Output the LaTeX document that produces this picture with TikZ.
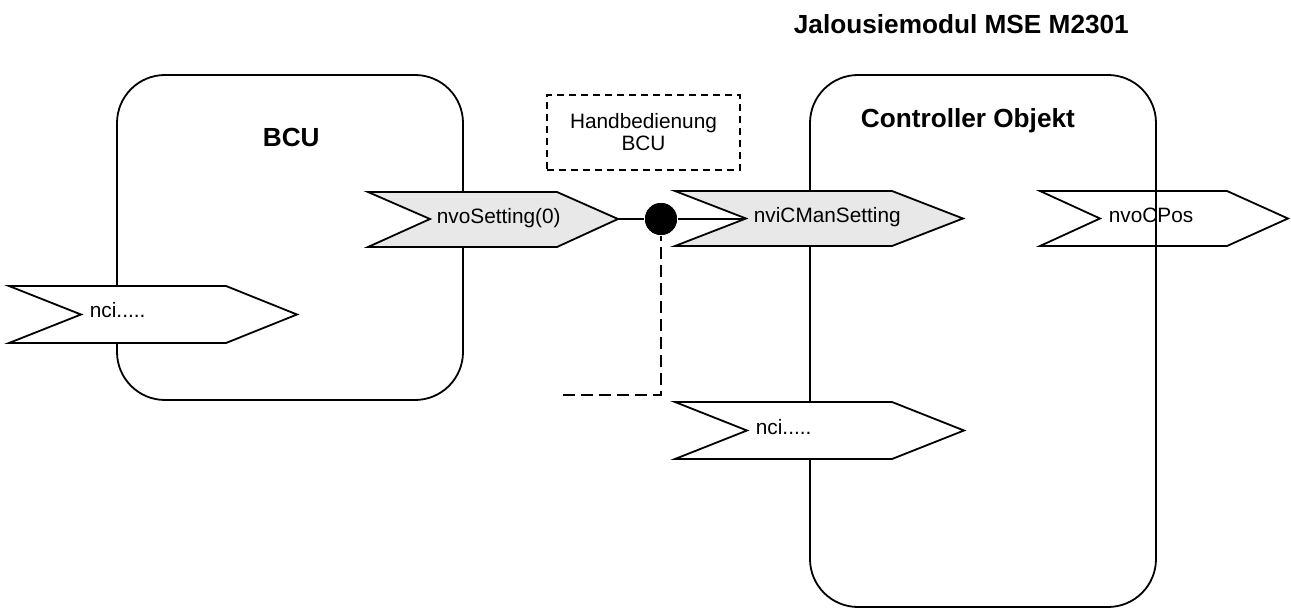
\documentclass[tikz,border=0pt]{standalone}
\usepackage{fontspec}
\setmainfont{Liberation Sans}
\newcommand\plaintext{\fontsize{10.4}{11}\selectfont}
\newcommand\headtext{\fontsize{13.1}{15}\selectfont\bfseries}
\tikzset{
  objbox/.style={draw,line width=.9pt,rounded corners=24pt},
  sig/.style={draw,line width=.9pt,line join=miter},
  siggray/.style={sig,fill=black!9},
  sigwhite/.style={sig,fill=white},
  lbl/.style={anchor=base west,inner sep=0pt,font=\plaintext},
  head/.style={anchor=base west,inner sep=0pt,font=\headtext},
  manualbox/.style={draw,line width=.8pt,dash pattern=on 3.5pt off 2.5pt,
    minimum width=96.5pt,minimum height=37.5pt,align=center,font=\plaintext},
  manual/.style={line width=1.2pt,dash pattern=on 6pt off 3pt},
  junction/.style={circle,fill=black,inner sep=0pt,minimum size=16pt},
}
\begin{document}
\begin{tikzpicture}[x=.5pt,y=-.5pt,line width=.9pt]
\useasboundingbox (0,0) rectangle (1291,609);
\node[head] (title) at (793,34) {Jalousiemodul MSE M2301};
% nvoCPos sits under the controller outline
\path[sigwhite] (1040,191) -- (1227,191) -- (1288,218.5) -- (1227,246) -- (1040,246) -- (1100,218.5) -- cycle;
\node[lbl] (cpos) at (1108,223) {nvoCPos};
\path[objbox] (117,75) rectangle (463,400);
\node[head] (bcu) at (262,147) {BCU};
\path[objbox] (810,75) rectangle (1156,607);
\node[head] (ctrl) at (860,128) {Controller Objekt};
\node[manualbox] (hand) at (643.5,132.5) {Handbedienung\\BCU};
% binding
\coordinate (setting-tip) at (618,219);
\coordinate (cman-notch) at (746,219);
\coordinate (manual-end) at (563,395);
\node[junction] (dot) at (661,219) {};
\draw[manual] (manual-end) -| (dot);
\draw (setting-tip) -- (dot) -- (cman-notch);
\node[junction] at (dot) {};
% BCU side
\path[siggray] (368,192) -- (557,192) -- (618,219) -- (557,247) -- (368,247) -- (430,219) -- cycle;
\node[lbl] (setting) at (436,224) {nvoSetting(0)};
\path[sigwhite] (9,286) -- (226,286) -- (297,314.5) -- (226,343) -- (9,343) -- (81,314.5) -- cycle;
\node[lbl] (bcunci) at (89,318) {nci.....};
% controller side
\path[siggray] (675,191) -- (892,191) -- (963,218.5) -- (892,246) -- (675,246) -- (746,218.5) -- cycle;
\node[lbl] (cman) at (753,223) {nviCManSetting};
\path[sigwhite] (675,402) -- (892,402) -- (964,430.5) -- (892,459) -- (675,459) -- (747,430.5) -- cycle;
\node[lbl] (ctrlnci) at (755,434) {nci.....};
\end{tikzpicture}
\end{document}
